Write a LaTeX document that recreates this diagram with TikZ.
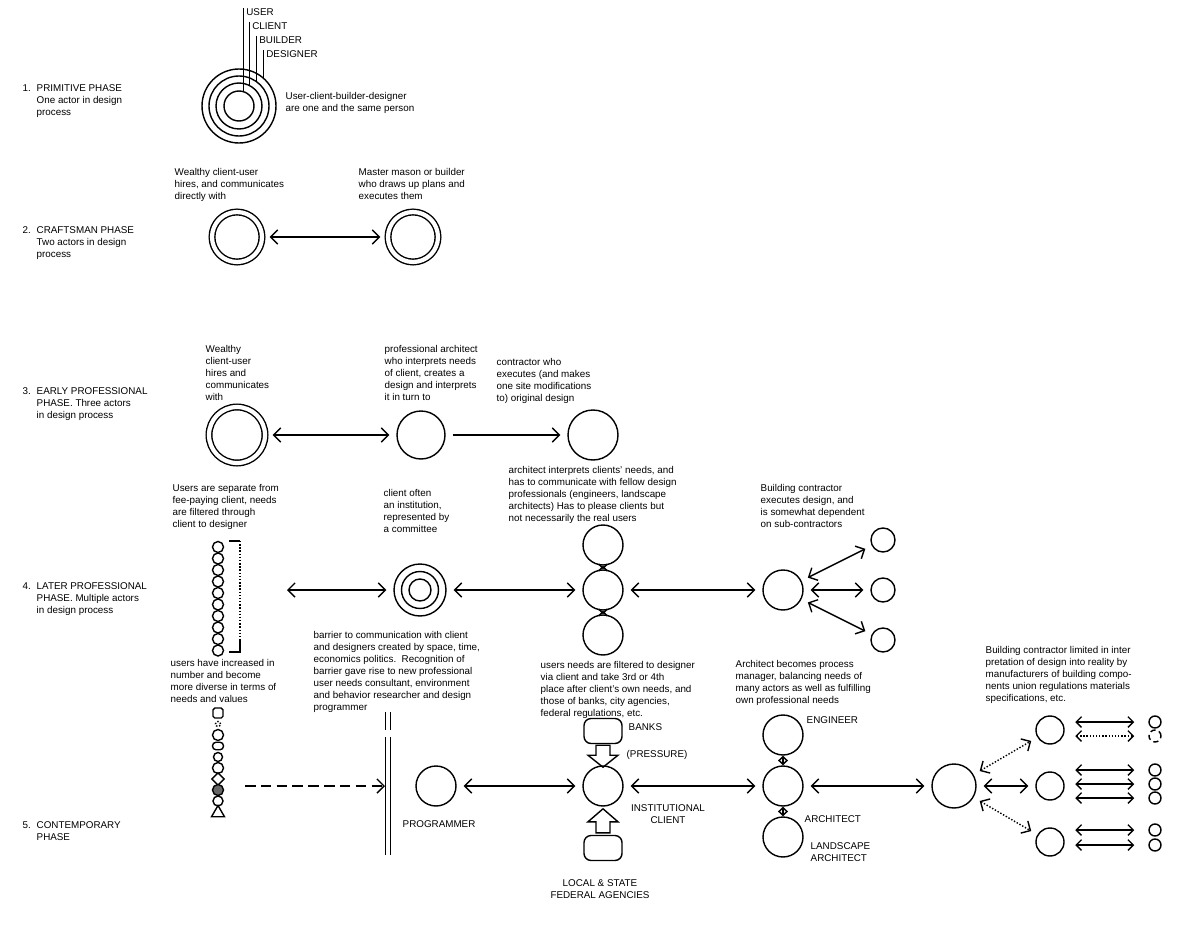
\documentclass[tikz,border=0pt]{standalone}
\usepackage{fontspec}
\setmainfont{Liberation Sans}
\usetikzlibrary{arrows.meta,shapes.geometric}

\begin{document}
\begin{tikzpicture}
	[x=0.02cm, y=-0.02cm, thick,
	every node/.style={font=\fontsize{5.6}{6.8}\selectfont},
	txt/.style={anchor=north west, align=left, inner sep=0pt},
	tag/.style={anchor=north west, inner xsep=1.5pt, inner ysep=0pt},
	actor/.style={circle, draw, inner sep=0pt, minimum size=#1},
	actor/.default=0.8cm,
	twin/.style={actor=#1, double, double distance=2.4pt},
	user/.style={draw, inner sep=0pt, minimum size=0.2cm},
	box/.style={draw, rounded corners=4pt, minimum width=0.76cm, minimum height=0.5cm},
	>={Straight Barb[length=4pt,width=8pt]},
	link/.style={<->, shorten >=4pt, shorten <=4pt},
	tiny/.style={<->, >={Straight Barb[length=2.5pt,width=5pt]}},
	short/.style={<->, >={Straight Barb[length=3pt,width=6pt]}, shorten <=6pt, shorten >=8pt}]
	\useasboundingbox (0,0) rectangle (1197,946);

	% phase labels
	\node[txt] (n1) at (22,84) {1.};
	\node[txt] (l1) at (36,84) {PRIMITIVE PHASE\\One actor in design\\process};
	\node[txt] (n2) at (22,226) {2.};
	\node[txt] (l2) at (36,226) {CRAFTSMAN PHASE\\Two actors in design\\process};
	\node[txt] (n3) at (22,387) {3.};
	\node[txt] (l3) at (36,387) {EARLY PROFESSIONAL\\PHASE. Three actors\\in design process};
	\node[txt] (n4) at (22,582) {4.};
	\node[txt] (l4) at (36,582) {LATER PROFESSIONAL\\PHASE. Multiple actors\\in design process};
	\node[txt] (n5) at (22,821) {5.};
	\node[txt] (l5) at (36,821) {CONTEMPORARY\\PHASE};

	% 1
	\node[actor=1.48cm] (c1a) at (239,106) {};
	\node[actor=1.2cm] (c1b) at (239,106) {};
	\node[actor=0.92cm] (c1c) at (239,106) {};
	\node[actor=0.6cm] (c1d) at (239,106) {};
	\node[tag] (uu) at (243,8) {USER};
	\node[tag] (cc) at (249,22) {CLIENT};
	\node[tag] (bb) at (256,36) {BUILDER};
	\node[tag] (dd) at (263,50) {DESIGNER};
	\draw[thin] (uu.north west) -- (uu.north west |- 0,91.5);
	\draw[thin] (cc.north west) -- (cc.north west |- 0,85.3);
	\draw[thin] (bb.north west) -- (bb.north west |- 0,81.3);
	\draw[thin] (dd.north west) -- (dd.north west |- 0,77.8);
	\node[txt] (t1) at (285,92) {User-client-builder-designer\\are one and the same person};

	% 2
	\node[txt] (t2a) at (174,168) {Wealthy client-user\\hires, and communicates\\directly with};
	\node[txt] (t2b) at (358,168) {Master mason or builder\\who draws up plans and\\executes them};
	\node[twin=1cm] (c2a) at (237,237) {};
	\node[twin=1cm] (c2b) at (413,237) {};
	\draw[link] (c2a) -- (c2b);

	% 3
	\node[txt] (t3a) at (205,345) {Wealthy\\client-user\\hires and\\communicates\\with};
	\node[txt] (t3b) at (384,345) {professional architect\\who interprets needs\\of client, creates a\\design and interprets\\it in turn to};
	\node[txt] (t3c) at (496,358) {contractor who\\executes (and makes\\one site modifications\\to) original design};
	\node[twin=1.12cm] (c3a) at (237,435) {};
	\node[actor=0.96cm] (c3b) at (421,435) {};
	\node[actor=1cm] (c3c) at (593,435) {};
	\draw[link] (c3a) -- (c3b);
	\draw[->, shorten >=4pt, shorten <=4pt] (c3b) -- (c3c);

	% 4
	\node[txt] (t4a) at (172,484) {Users are separate from\\fee-paying client, needs\\are filtered through\\client to designer};
	\node[txt] (t4b) at (383,489) {client often\\an institution,\\represented by\\a committee};
	\node[txt] (t4c) at (508,466) {architect interprets clients' needs, and\\has to communicate with fellow design\\professionals (engineers, landscape\\architects) Has to please clients but\\not necessarily the real users};
	\node[txt] (t4d) at (760,484) {Building contractor\\executes design, and\\is somewhat dependent\\on sub-contractors};
	\foreach \i in {1,...,10}
		\node[user, circle, minimum size=0.22cm] (u\i) at (218,{535.5+11.5*\i}) {};
	\draw (229,541) -- (240,541);
	\draw[densely dotted] (240,541) -- (240,640);
	\draw (240,640) -- (240,652) -- (229,652);
	\coordinate (b4) at (287,590);
	\node[actor=1.04cm] (c4a) at (420,590) {};
	\node[actor=0.74cm] (c4b) at (420,590) {};
	\node[actor=0.44cm] (c4c) at (420,590) {};
	\draw[<->, shorten >=4pt] (b4) -- (c4a);
	\node[actor] (a4t) at (603,545) {};
	\node[actor] (a4) at (603,590) {};
	\node[actor] (a4b) at (603,635) {};
	\draw[tiny] (a4t) -- (a4);
	\draw[tiny] (a4) -- (a4b);
	\draw[link] (c4a) -- (a4);
	\node[actor] (k4) at (783,590) {};
	\draw[link] (a4) -- (k4);
	\node[actor=0.48cm] (s4a) at (883,540) {};
	\node[actor=0.48cm] (s4b) at (883,590) {};
	\node[actor=0.48cm] (s4c) at (883,640) {};
	\draw[link] (k4) -- (s4a);
	\draw[link] (k4) -- (s4b);
	\draw[link] (k4) -- (s4c);

	% 5
	\node[txt] (t5a) at (170,659) {users have increased in\\number and become\\more diverse in terms of\\needs and values};
	\node[txt] (t5b) at (313,631) {barrier to communication with client\\and designers created by space, time,\\economics politics.\ \ Recognition of\\barrier gave rise to new professional\\user needs consultant, environment\\and behavior researcher and design\\programmer};
	\node[txt] (t5c) at (540,661) {users needs are filtered to designer\\via client and take 3rd or 4th\\place after client's own needs, and\\those of banks, city agencies,\\federal regulations, etc.};
	\node[txt] (t5d) at (735,660) {Architect becomes process\\manager, balancing needs of\\many actors as well as fulfilling\\own professional needs};
	\node[txt] (t5e) at (985,646) {Building contractor limited in inter\\pretation of design into reality by\\manufacturers of building compo-\\nents union regulations materials\\specifications, etc.};
	\node[user, rectangle, rounded corners=1pt] (v1) at (218,713) {};
	\node[user, circle, densely dotted, minimum size=0.1cm] (v2) at (218,724) {};
	\node[user, circle, minimum size=0.22cm] (v3) at (218,735) {};
	\node[user, rectangle, rounded corners=2pt, minimum width=0.22cm, minimum height=0.15cm] (v4) at (218,746) {};
	\node[user, circle, minimum size=0.18cm] (v5) at (218,757) {};
	\node[user, circle, minimum size=0.22cm] (v6) at (218,768) {};
	\node[user, diamond, minimum size=0.26cm] (v7) at (218,779) {};
	\node[user, circle, fill=black!60, minimum size=0.22cm] (v8) at (218,790) {};
	\node[user, circle, minimum size=0.2cm] (v9) at (218,801) {};
	\node[user, regular polygon, regular polygon sides=3, minimum size=0.3cm] (v10) at (218,813) {};
	\draw[double, double distance=2pt] (388,712) -- (388,730) (388,737) -- (388,855);
	\coordinate (d5) at (245,786);
	\coordinate (w5) at (385,786);
	\draw[dash pattern=on 6pt off 3pt, ->] (d5) -- (w5);
	\node[actor] (p5) at (436,786) {};
	\node[txt] (pl) at (402,820) {PROGRAMMER};
	\node[actor] (i5) at (603,786) {};
	\node[align=center, inner sep=0pt] (il) at (668,814) {INSTITUTIONAL\\CLIENT};
	\draw[link] (p5) -- (i5);
	\node[box] (bk5) at (603,731) {};
	\node[anchor=west, inner sep=0pt] (bl) at (628,727) {BANKS};
	\draw (bk5.south) ++(-7,1) -- ++(14,0) -- ++(0,10) -- ++(8,0) -- ++(-15,12) -- ++(-15,-12) -- ++(8,0) -- cycle;
	\node[anchor=west, inner sep=0pt] (prl) at (626,755) {(PRESSURE)};
	\node[box] (ag5) at (603,848) {};
	\draw (ag5.north) ++(-7,-2) -- ++(14,0) -- ++(0,-11) -- ++(8,0) -- ++(-15,-13) -- ++(-15,13) -- ++(8,0) -- cycle;
	\node[align=center, inner sep=0pt] (al) at (600,889) {LOCAL \& STATE\\FEDERAL AGENCIES};
	\node[actor] (e5) at (783,735) {};
	\node[actor] (r5) at (783,786) {};
	\node[actor] (g5) at (783,837) {};
	\draw[tiny] (e5) -- (r5);
	\draw[tiny] (r5) -- (g5);
	\node[txt] (el) at (806,716) {ENGINEER};
	\node[txt] (rl) at (804,815) {ARCHITECT};
	\node[txt] (gl) at (810,842) {LANDSCAPE\\ARCHITECT};
	\draw[link] (i5) -- (r5);
	\node[actor=0.88cm] (k5) at (954,786) {};
	\draw[link] (r5) -- (k5);
	\node[actor=0.56cm] (q1) at (1050,730) {};
	\node[actor=0.56cm] (q2) at (1050,786) {};
	\node[actor=0.56cm] (q3) at (1050,842) {};
	\draw[link, densely dotted] (k5) -- (q1);
	\draw[link] (k5) -- (q2);
	\draw[link, densely dotted] (k5) -- (q3);
	\node[actor=0.24cm] (m1) at (1155,722) {};
	\node[actor=0.24cm, densely dashed] (m2) at (1155,736) {};
	\node[actor=0.24cm] (m3) at (1155,770) {};
	\node[actor=0.24cm] (m4) at (1155,784) {};
	\node[actor=0.24cm] (m5) at (1155,798) {};
	\node[actor=0.24cm] (m6) at (1155,830) {};
	\node[actor=0.24cm] (m7) at (1155,845) {};
	\draw[short] (q1.east |- m1) -- (m1);
	\draw[short, densely dotted] (q1.east |- m2) -- (m2);
	\draw[short] (q2.east |- m3) -- (m3);
	\draw[short] (q2.east |- m4) -- (m4);
	\draw[short] (q2.east |- m5) -- (m5);
	\draw[short] (q3.east |- m6) -- (m6);
	\draw[short] (q3.east |- m7) -- (m7);
\end{tikzpicture}
\end{document}
